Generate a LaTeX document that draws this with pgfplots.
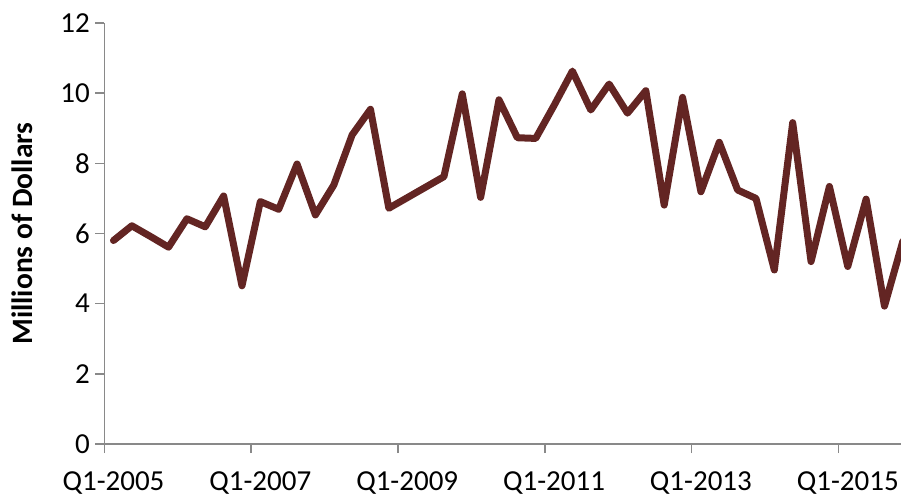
\documentclass[border=0pt]{standalone}
\usepackage{fontspec}
\setmainfont{Carlito}
\usepackage{pgfplots}
\pgfplotsset{compat=1.18}
\definecolor{linec}{HTML}{632523}
\definecolor{axc}{HTML}{898989}
\pgfplotstableread{
q v
0 5.80
1 6.22
2 5.92
3 5.61
4 6.42
5 6.19
6 7.07
7 4.51
8 6.91
9 6.69
10 7.98
11 6.53
12 7.38
13 8.81
14 9.54
15 6.72
16 7.02
17 7.32
18 7.62
19 9.98
20 7.03
21 9.81
22 8.73
23 8.71
24 9.65
25 10.63
26 9.52
27 10.26
28 9.43
29 10.07
30 6.81
31 9.88
32 7.19
33 8.60
34 7.24
35 7.00
36 4.96
37 9.16
38 5.20
39 7.34
40 5.06
41 6.98
42 3.93
43 5.78
}\datatable
\begin{document}
\begin{tikzpicture}
\begin{axis}[
 scale only axis, width=796.7pt, height=421pt,
 xmin=-0.5, xmax=42.9, ymin=0, ymax=12,
 axis x line*=bottom, axis y line*=left,
 axis line style={axc, line width=1.5pt, -},
 tick align=outside, major tick length=9pt,
 tick style={axc, line width=1.5pt},
 xtick={-0.5,7.5,15.5,23.5,31.5,39.5},
 xticklabels={Q1-2005,Q1-2007,Q1-2009,Q1-2011,Q1-2013,Q1-2015},
 xticklabel style={xshift=9.18pt, yshift=-15pt, font=\fontsize{29}{32}\selectfont},
 ytick={0,2,...,12},
 yticklabel style={font=\fontsize{29}{32}\selectfont, xshift=-2pt},
 /pgf/number format/assume math mode=true,
 ylabel={Millions of Dollars},
 every axis y label/.style={at={(axis description cs:-0.1027,0.5)}, rotate=90, anchor=center, font=\fontsize{29.5}{32}\selectfont\bfseries},
 clip=true,
]
\addplot[linec, line width=7pt, line join=round, line cap=round] table[x=q, y=v] {\datatable};
\coordinate (O) at (rel axis cs:0,0);
\end{axis}
\pgfresetboundingbox
\path[use as bounding box] (O) ++(-104.3pt,-52pt) rectangle ++(901pt,496pt);
\end{tikzpicture}
\end{document}
